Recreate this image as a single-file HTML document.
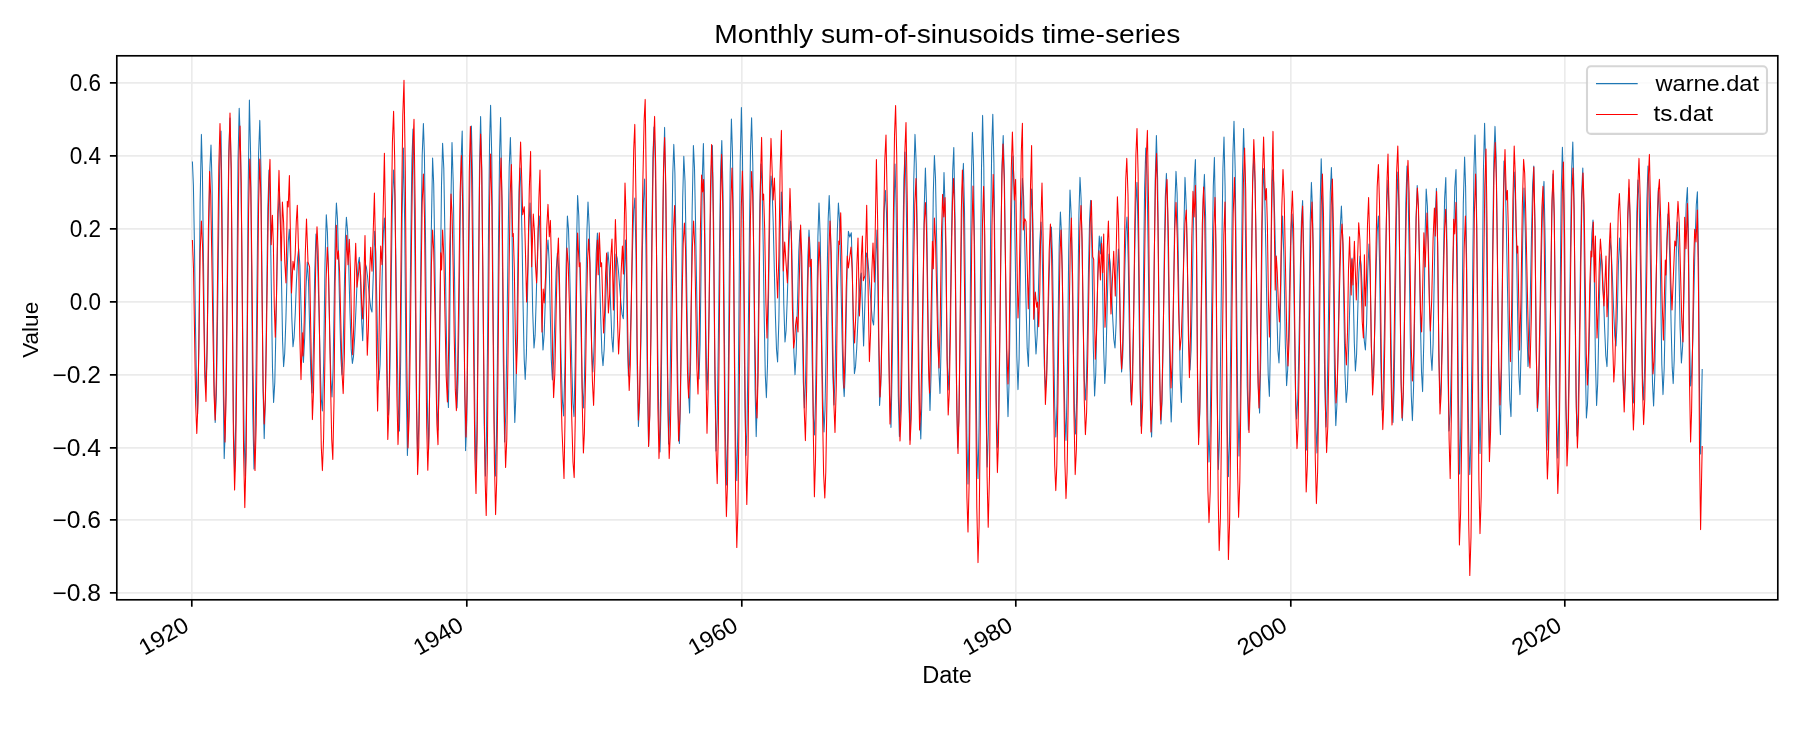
<!DOCTYPE html>
<html lang="en"><head><meta charset="utf-8"><title>Monthly sum-of-sinusoids time-series</title>
<style>html,body{margin:0;padding:0;background:#fff}svg{display:block}text{font-family:"Liberation Sans",sans-serif;fill:#000}</style></head><body>
<svg width="1800" height="750" viewBox="0 0 1800 750" style="will-change:transform">
<rect width="1800" height="750" fill="#fff"/>
<path d="M191.8 55.8 V599.8M466.8 55.8 V599.8M741.8 55.8 V599.8M1015.8 55.8 V599.8M1290.8 55.8 V599.8M1564.8 55.8 V599.8M116.8 592.8 H1777.8M116.8 519.8 H1777.8M116.8 447.8 H1777.8M116.8 374.8 H1777.8M116.8 301.8 H1777.8M116.8 228.8 H1777.8M116.8 155.8 H1777.8M116.8 82.8 H1777.8" stroke="#ebebeb" stroke-width="1.67" fill="none"/>
<g fill="none" stroke-width="1.05" stroke-linejoin="round" stroke-linecap="butt">
<path stroke="#1f77b4" d="M192.4 161.4L193.4 185.5L194.5 248.7L195.5 326.7L196.6 389.9L197.6 414.0L198.9 344.1L200.1 204.3L201.4 134.4L202.4 171.8L203.5 262.2L204.6 352.6L205.6 390.0L206.7 366.6L207.8 305.4L208.8 229.6L209.9 168.4L211.0 145.0L212.1 185.6L213.1 283.7L214.1 381.8L215.2 422.4L216.4 394.6L217.5 321.7L218.7 231.7L219.8 158.8L221.0 131.0L222.1 212.9L223.1 376.7L224.2 458.6L225.4 426.1L226.5 340.9L227.7 235.7L228.8 150.5L230.0 118.0L231.2 169.8L232.3 295.0L233.4 420.2L234.6 472.0L235.8 418.7L236.9 290.1L238.0 161.5L239.2 108.2L240.4 143.3L241.7 235.3L242.9 348.9L244.2 440.9L245.4 476.0L246.7 382.0L248.1 194.0L249.4 100.0L250.6 154.0L251.7 284.5L252.8 415.0L254.0 469.0L255.2 435.7L256.3 348.6L257.5 240.8L258.6 153.7L259.8 120.4L260.9 167.0L262.0 279.5L263.1 392.0L264.2 438.6L265.4 399.3L266.6 304.3L267.8 209.3L269.0 170.0L270.1 204.0L271.3 286.2L272.5 368.4L273.6 402.4L274.8 382.5L275.9 330.3L277.1 265.7L278.2 213.5L279.4 193.6L280.4 218.9L281.5 280.1L282.6 341.3L283.6 366.6L284.7 353.5L285.9 319.2L287.0 276.7L288.2 242.4L289.3 229.3L290.5 258.6L291.8 317.3L293.0 346.7L294.1 337.3L295.3 312.8L296.4 282.6L297.6 258.1L298.7 248.7L299.9 265.4L301.0 305.5L302.2 345.7L303.4 362.4L304.7 337.3L306.0 287.1L307.3 262.0L308.5 281.2L309.6 327.5L310.8 373.8L312.0 393.0L313.3 353.2L314.7 273.8L316.0 234.0L317.1 245.9L318.1 278.2L319.2 322.5L320.3 366.8L321.3 399.1L322.4 411.0L323.7 361.9L325.0 263.8L326.3 214.7L327.4 232.1L328.6 277.7L329.7 334.0L330.9 379.6L332.0 397.0L333.1 368.6L334.2 300.0L335.3 231.4L336.4 203.0L337.5 219.4L338.6 262.4L339.8 315.6L340.9 358.6L342.0 375.0L343.1 351.9L344.2 296.2L345.3 240.4L346.4 217.3L347.6 231.3L348.8 267.8L350.0 312.9L351.2 349.4L352.4 363.4L353.5 356.3L354.7 336.9L355.9 310.4L357.0 283.8L358.1 264.4L359.3 257.3L360.4 278.1L361.6 319.8L362.7 340.7L364.0 302.4L365.3 264.0L366.4 267.2L367.5 276.0L368.6 288.0L369.8 300.0L370.9 308.8L372.0 312.0L373.4 271.7L374.7 231.3L375.8 253.1L376.9 305.6L377.9 358.2L379.0 380.0L380.1 364.5L381.2 324.0L382.2 274.0L383.3 233.5L384.4 218.0L385.4 246.8L386.4 316.5L387.5 386.2L388.5 415.0L389.8 379.1L391.1 292.5L392.3 205.9L393.6 170.0L394.8 194.9L395.9 260.2L397.1 340.8L398.2 406.1L399.4 431.0L400.7 360.2L402.1 218.8L403.4 148.0L404.7 224.8L406.1 378.5L407.4 455.4L408.5 424.2L409.6 342.6L410.8 241.8L411.9 160.2L413.0 129.0L414.1 176.9L415.3 292.5L416.5 408.1L417.6 456.0L418.8 424.3L419.9 341.2L421.1 238.4L422.2 155.3L423.4 123.6L424.4 154.8L425.5 236.4L426.5 337.2L427.6 418.8L428.6 450.0L429.9 377.0L431.3 231.0L432.6 158.0L433.7 184.0L434.8 252.0L435.8 336.0L436.9 404.0L438.0 430.0L439.1 388.0L440.3 286.6L441.5 185.2L442.6 143.2L443.8 168.4L444.9 234.5L446.1 316.1L447.2 382.2L448.4 407.4L449.6 341.2L450.8 208.8L452.0 142.6L453.2 181.5L454.5 275.3L455.8 369.1L457.0 408.0L458.0 381.5L459.1 312.3L460.1 226.7L461.2 157.5L462.2 131.0L463.3 210.9L464.5 370.7L465.6 450.6L466.8 419.6L467.9 338.5L469.1 238.1L470.2 157.0L471.4 126.0L472.5 176.7L473.7 299.0L474.9 421.3L476.0 472.0L477.1 420.0L478.3 294.3L479.5 168.6L480.6 116.6L481.8 169.2L483.0 296.3L484.2 423.4L485.4 476.0L486.4 440.6L487.5 347.9L488.5 233.3L489.6 140.6L490.6 105.2L491.8 159.5L493.0 290.6L494.2 421.7L495.4 476.0L496.4 441.8L497.5 352.2L498.5 241.4L499.6 151.8L500.6 117.6L501.9 198.7L503.3 360.9L504.6 442.0L505.8 412.9L506.9 336.8L508.1 242.8L509.2 166.7L510.4 137.6L511.5 179.3L512.6 280.0L513.7 380.7L514.8 422.4L515.8 398.1L516.9 334.5L517.9 255.9L519.0 192.3L520.0 168.0L521.0 188.2L522.1 241.0L523.1 306.4L524.2 359.2L525.2 379.4L526.4 353.6L527.6 291.2L528.8 228.8L530.0 203.0L531.3 239.2L532.7 311.8L534.0 348.0L535.1 335.4L536.1 302.4L537.2 261.6L538.2 228.6L539.3 216.0L540.5 249.5L541.8 316.5L543.0 350.0L544.2 333.9L545.5 295.0L546.8 256.1L548.0 240.0L549.1 260.5L550.2 310.0L551.3 359.5L552.4 380.0L553.6 361.4L554.9 316.5L556.1 271.6L557.4 253.0L558.6 268.6L559.9 309.3L561.1 359.7L562.4 400.4L563.6 416.0L564.9 366.0L566.1 266.0L567.4 216.0L568.5 229.4L569.6 266.1L570.7 316.3L571.8 366.4L572.9 403.2L574.0 416.6L575.2 361.4L576.4 250.9L577.6 195.6L578.8 215.9L579.9 269.0L581.1 334.6L582.2 387.7L583.4 408.0L584.5 377.8L585.7 305.0L586.9 232.2L588.0 202.0L589.2 226.9L590.4 287.0L591.6 347.1L592.8 372.0L593.9 351.6L595.1 302.5L596.2 253.4L597.4 233.0L598.5 245.7L599.6 278.8L600.8 319.8L601.9 352.9L603.0 365.6L604.2 349.0L605.5 308.8L606.8 268.6L608.0 252.0L609.2 266.6L610.5 302.0L611.8 337.4L613.0 352.0L614.0 327.5L615.0 278.5L616.0 254.0L617.2 258.3L618.4 270.2L619.6 286.3L620.9 302.5L622.1 314.4L623.3 318.7L624.3 279.4L625.4 240.0L626.4 274.0L627.4 342.0L628.4 376.0L629.5 364.1L630.5 331.5L631.6 287.0L632.7 242.5L633.7 209.9L634.8 198.0L636.0 255.1L637.2 369.3L638.4 426.4L639.6 402.8L640.9 340.9L642.1 264.5L643.4 202.6L644.6 179.0L645.9 245.8L647.3 379.2L648.6 446.0L649.7 415.5L650.8 335.8L651.8 237.2L652.9 157.5L654.0 127.0L655.2 158.0L656.4 239.3L657.6 339.7L658.8 421.0L660.0 452.0L661.1 404.5L662.3 289.7L663.5 174.9L664.6 127.4L665.9 206.6L667.3 364.9L668.6 444.0L669.6 415.4L670.7 340.5L671.7 247.9L672.8 173.0L673.8 144.4L674.9 173.0L676.0 247.7L677.2 340.1L678.3 414.8L679.4 443.4L680.5 401.3L681.6 299.8L682.7 198.3L683.8 156.2L685.0 180.7L686.1 244.9L687.3 324.3L688.4 388.5L689.6 413.0L690.9 346.2L692.1 212.5L693.4 145.6L694.5 167.9L695.6 226.2L696.8 298.4L697.9 356.7L699.0 379.0L700.1 344.5L701.2 261.3L702.3 178.1L703.4 143.6L704.6 205.2L705.8 328.4L707.0 390.0L708.1 366.7L709.2 305.6L710.2 230.0L711.3 168.9L712.4 145.6L713.6 221.9L714.8 374.6L716.0 451.0L717.2 421.4L718.3 343.8L719.5 247.8L720.6 170.2L721.8 140.6L723.0 191.0L724.2 312.8L725.4 434.6L726.6 485.0L727.8 431.4L729.0 302.0L730.2 172.6L731.4 119.0L732.5 153.5L733.6 243.9L734.6 355.7L735.7 446.1L736.8 480.6L737.9 426.0L739.1 294.1L740.2 162.2L741.4 107.6L742.5 158.6L743.7 281.6L744.9 404.6L746.0 455.6L747.1 423.3L748.2 338.9L749.4 234.5L750.5 150.1L751.6 117.8L752.8 164.5L753.9 277.2L755.1 389.9L756.2 436.6L757.4 396.7L758.6 300.3L759.8 203.9L761.0 164.0L762.1 186.3L763.2 244.7L764.2 316.9L765.3 375.3L766.4 397.6L767.5 365.1L768.7 286.8L769.9 208.5L771.0 176.0L772.1 188.5L773.2 222.5L774.3 269.0L775.4 315.5L776.5 349.5L777.6 362.0L778.9 319.5L780.1 234.5L781.4 192.0L782.6 229.5L783.8 304.5L785.0 342.0L786.1 330.4L787.2 300.2L788.4 262.8L789.5 232.6L790.6 221.0L791.7 243.5L792.8 297.8L793.9 352.1L795.0 374.6L796.2 353.4L797.5 302.3L798.8 251.2L800.0 230.0L801.1 256.1L802.2 319.0L803.3 381.9L804.4 408.0L805.5 381.9L806.7 319.0L807.9 256.1L809.0 230.0L810.1 249.6L811.2 300.8L812.2 364.2L813.3 415.4L814.4 435.0L815.5 401.0L816.7 319.0L817.9 237.0L819.0 203.0L820.2 236.5L821.5 317.5L822.8 398.5L824.0 432.0L825.0 409.4L826.1 350.3L827.1 277.3L828.2 218.2L829.2 195.6L830.4 226.3L831.6 300.3L832.8 374.3L834.0 405.0L835.1 375.4L836.2 304.0L837.3 232.6L838.4 203.0L839.6 221.5L840.7 269.9L841.9 329.7L843.0 378.1L844.2 396.6L845.2 372.4L846.3 314.0L847.4 255.5L848.4 231.3L849.8 237.0L851.3 232.7L852.3 267.9L853.4 338.4L854.4 373.6L855.5 366.9L856.7 348.5L857.8 323.3L859.0 298.2L860.1 279.7L861.3 273.0L862.5 309.5L863.6 346.0L865.0 299.5L866.4 253.0L867.6 257.8L868.8 271.0L870.0 289.0L871.2 307.0L872.4 320.2L873.6 325.0L874.7 301.2L875.9 253.8L877.0 230.0L878.3 317.7L879.6 405.4L880.8 384.9L881.9 331.1L883.1 264.7L884.2 210.9L885.4 190.4L886.5 213.0L887.6 272.3L888.8 345.5L889.9 404.8L891.0 427.4L892.3 361.6L893.7 229.9L895.0 164.0L896.1 203.9L897.2 300.2L898.3 396.5L899.4 436.4L900.5 409.2L901.6 338.1L902.8 250.3L903.9 179.2L905.0 152.0L906.2 194.2L907.5 296.0L908.8 397.8L910.0 440.0L911.2 395.2L912.5 287.2L913.8 179.2L915.0 134.4L916.2 163.5L917.3 239.6L918.5 333.8L919.6 409.9L920.8 439.0L921.9 399.3L923.1 303.5L924.2 207.7L925.4 168.0L926.5 203.5L927.7 289.2L928.9 374.9L930.0 410.4L931.1 373.1L932.2 283.0L933.3 192.9L934.4 155.6L935.5 178.3L936.6 237.8L937.8 311.2L938.9 370.7L940.0 393.4L941.3 338.2L942.7 227.8L944.0 172.6L945.0 204.4L946.1 281.3L947.2 358.2L948.2 390.0L949.3 366.9L950.4 306.3L951.6 231.3L952.7 170.7L953.8 147.6L955.1 222.7L956.3 372.9L957.6 448.0L958.8 420.8L959.9 349.7L961.1 261.7L962.2 190.6L963.4 163.4L964.5 210.4L965.7 323.7L966.9 437.0L968.0 484.0L969.1 432.5L970.2 308.2L971.3 183.9L972.4 132.4L973.5 165.4L974.6 251.9L975.8 358.9L976.9 445.4L978.0 478.4L979.1 425.2L980.3 296.9L981.5 168.6L982.6 115.4L983.8 166.9L984.9 291.2L986.1 415.5L987.2 467.0L988.3 433.3L989.4 345.1L990.6 236.1L991.7 147.9L992.8 114.2L993.9 163.1L995.1 281.1L996.2 399.1L997.4 448.0L998.6 418.2L999.7 340.1L1000.9 243.5L1002.0 165.4L1003.2 135.6L1004.4 176.8L1005.6 276.1L1006.8 375.4L1008.0 416.6L1009.2 378.4L1010.5 286.3L1011.8 194.2L1013.0 156.0L1014.2 190.2L1015.5 272.8L1016.8 355.4L1018.0 389.6L1019.1 358.7L1020.2 284.0L1021.3 209.3L1022.4 178.4L1023.6 196.4L1024.8 243.4L1026.0 301.4L1027.2 348.4L1028.4 366.4L1029.5 322.1L1030.5 233.4L1031.6 189.0L1032.7 213.2L1033.8 271.5L1034.9 329.8L1036.0 354.0L1037.2 334.7L1038.5 288.0L1039.8 241.3L1041.0 222.0L1042.1 246.6L1043.2 306.0L1044.3 365.4L1045.4 390.0L1046.6 374.4L1047.8 333.7L1049.0 283.3L1050.2 242.6L1051.4 227.0L1052.5 257.8L1053.6 332.0L1054.7 406.2L1055.8 437.0L1057.0 404.0L1058.1 324.5L1059.2 245.0L1060.4 212.0L1061.5 233.8L1062.6 290.9L1063.8 361.5L1064.9 418.6L1066.0 440.4L1067.3 377.8L1068.7 252.6L1070.0 190.0L1071.1 213.3L1072.2 274.3L1073.4 349.7L1074.5 410.7L1075.6 434.0L1076.7 396.4L1077.8 305.7L1078.9 215.0L1080.0 177.4L1081.1 198.7L1082.2 254.3L1083.2 323.1L1084.3 378.7L1085.4 400.0L1086.4 380.9L1087.5 331.0L1088.5 269.4L1089.6 219.5L1090.6 200.4L1091.9 249.3L1093.3 347.1L1094.6 396.0L1095.8 372.6L1096.9 316.0L1098.1 259.4L1099.3 236.0L1100.4 254.0L1101.3 236.7L1102.5 273.4L1103.6 346.7L1104.8 383.4L1105.8 364.4L1106.9 318.7L1108.0 273.0L1109.0 254.0L1110.2 263.0L1111.4 286.5L1112.6 315.5L1113.8 339.0L1115.0 348.0L1116.1 323.2L1117.3 273.8L1118.4 249.0L1119.5 279.8L1120.5 341.2L1121.6 372.0L1122.7 357.2L1123.8 318.4L1124.8 270.6L1125.9 231.8L1127.0 217.0L1128.3 263.2L1129.7 355.8L1131.0 402.0L1132.2 381.0L1133.4 326.1L1134.6 258.3L1135.8 203.4L1137.0 182.4L1138.3 243.3L1139.7 365.1L1141.0 426.0L1142.2 385.3L1143.4 287.0L1144.6 188.7L1145.8 148.0L1147.0 175.6L1148.1 247.8L1149.3 337.2L1150.4 409.4L1151.6 437.0L1152.8 392.9L1154.0 286.3L1155.2 179.7L1156.4 135.6L1157.6 177.8L1158.7 279.8L1159.8 381.8L1161.0 424.0L1162.1 400.1L1163.2 337.4L1164.2 260.0L1165.3 197.3L1166.4 173.4L1167.6 209.8L1168.8 297.7L1170.0 385.6L1171.2 422.0L1172.4 385.3L1173.6 296.7L1174.8 208.1L1176.0 171.4L1177.1 193.5L1178.2 251.2L1179.2 322.6L1180.3 380.3L1181.4 402.4L1182.6 346.1L1183.8 233.7L1185.0 177.4L1186.2 205.6L1187.5 273.7L1188.8 341.8L1190.0 370.0L1191.1 349.9L1192.2 297.3L1193.2 232.3L1194.3 179.7L1195.4 159.6L1196.5 229.2L1197.5 368.4L1198.6 438.0L1199.8 412.8L1200.9 346.9L1202.1 265.5L1203.2 199.6L1204.4 174.4L1205.6 216.5L1206.7 318.2L1207.8 419.9L1209.0 462.0L1210.1 432.9L1211.2 356.8L1212.2 262.6L1213.3 186.5L1214.4 157.4L1215.7 235.4L1217.1 391.6L1218.4 469.6L1219.5 437.8L1220.6 354.7L1221.8 251.9L1222.9 168.8L1224.0 137.0L1225.1 186.7L1226.2 306.8L1227.3 426.9L1228.4 476.6L1229.5 442.7L1230.6 353.8L1231.8 244.0L1232.9 155.1L1234.0 121.2L1235.2 170.2L1236.5 288.6L1237.8 407.0L1239.0 456.0L1240.2 408.1L1241.3 292.3L1242.4 176.5L1243.6 128.6L1244.8 172.7L1246.0 279.3L1247.2 385.9L1248.4 430.0L1249.5 403.8L1250.6 335.3L1251.6 250.7L1252.7 182.2L1253.8 156.0L1255.0 180.5L1256.1 244.8L1257.3 324.2L1258.4 388.5L1259.6 413.0L1260.9 351.9L1262.1 229.7L1263.4 168.6L1264.6 190.4L1265.8 247.3L1267.0 317.7L1268.2 374.6L1269.4 396.4L1270.5 339.8L1271.5 226.6L1272.6 170.0L1273.7 182.9L1274.7 218.2L1275.8 266.5L1276.9 314.8L1277.9 350.1L1279.0 363.0L1280.2 326.2L1281.4 252.8L1282.6 216.0L1283.9 258.4L1285.3 343.2L1286.6 385.6L1287.7 369.2L1288.8 326.3L1289.8 273.3L1290.9 230.4L1292.0 214.0L1293.2 244.0L1294.3 316.5L1295.4 389.0L1296.6 419.0L1297.8 398.1L1299.0 343.5L1300.2 276.1L1301.4 221.5L1302.6 200.6L1303.9 262.9L1305.3 387.6L1306.6 450.0L1307.8 410.8L1309.0 316.2L1310.2 221.6L1311.4 182.4L1312.5 208.2L1313.6 275.9L1314.8 359.5L1315.9 427.2L1317.0 453.0L1318.0 409.9L1319.1 305.9L1320.2 201.9L1321.2 158.8L1322.4 198.1L1323.6 292.9L1324.8 387.7L1326.0 427.0L1327.1 402.2L1328.2 337.4L1329.2 257.2L1330.3 192.4L1331.4 167.6L1332.5 205.4L1333.6 296.6L1334.7 387.8L1335.8 425.6L1336.9 404.6L1338.0 349.7L1339.2 281.9L1340.3 227.0L1341.4 206.0L1342.6 234.8L1343.8 304.2L1345.0 373.6L1346.2 402.4L1347.4 388.6L1348.5 352.5L1349.7 307.9L1350.8 271.8L1352.0 258.0L1353.1 286.2L1354.3 342.8L1355.4 371.0L1356.6 354.2L1357.7 313.5L1358.8 272.8L1360.0 256.0L1361.1 265.0L1362.2 288.5L1363.2 317.5L1364.3 341.0L1365.4 350.0L1366.6 323.5L1367.8 270.5L1369.0 244.0L1370.2 278.0L1371.4 346.0L1372.6 380.0L1373.8 364.3L1374.9 323.3L1376.1 272.7L1377.2 231.7L1378.4 216.0L1379.6 264.5L1380.8 361.5L1382.0 410.0L1383.2 388.0L1384.4 330.5L1385.6 259.5L1386.8 202.0L1388.0 180.0L1389.2 215.5L1390.5 301.3L1391.8 387.1L1393.0 422.6L1394.2 385.9L1395.4 297.3L1396.6 208.7L1397.8 172.0L1399.0 208.4L1400.1 296.3L1401.2 384.2L1402.4 420.6L1403.6 383.3L1404.7 293.3L1405.8 203.3L1407.0 166.0L1408.1 190.3L1409.2 254.0L1410.2 332.6L1411.3 396.3L1412.4 420.6L1413.6 386.2L1414.8 303.1L1416.0 220.0L1417.2 185.6L1418.3 205.3L1419.4 256.8L1420.4 320.4L1421.5 371.9L1422.6 391.6L1423.8 341.0L1425.0 239.7L1426.2 189.0L1427.4 206.3L1428.5 251.7L1429.7 307.7L1430.8 353.1L1432.0 370.4L1433.1 343.7L1434.2 279.4L1435.3 215.1L1436.4 188.4L1437.6 242.0L1438.8 349.3L1440.0 403.0L1441.2 381.5L1442.3 325.1L1443.5 255.5L1444.6 199.1L1445.8 177.6L1446.9 240.9L1447.9 367.6L1449.0 431.0L1450.2 413.5L1451.3 365.7L1452.5 300.3L1453.7 235.0L1454.8 187.1L1456.0 169.6L1457.2 245.7L1458.4 397.9L1459.6 474.0L1460.8 427.6L1462.1 315.5L1463.3 203.4L1464.6 157.0L1465.6 187.3L1466.7 266.7L1467.7 364.9L1468.8 444.3L1469.8 474.6L1470.8 442.2L1471.9 357.3L1472.9 252.3L1474.0 167.4L1475.0 135.0L1476.2 181.6L1477.5 294.2L1478.8 406.8L1480.0 453.4L1481.2 405.0L1482.3 288.3L1483.4 171.6L1484.6 123.2L1485.8 170.8L1487.0 285.6L1488.2 400.4L1489.4 448.0L1490.5 417.3L1491.6 336.9L1492.8 237.5L1493.9 157.1L1495.0 126.4L1496.1 155.8L1497.2 232.9L1498.2 328.1L1499.3 405.2L1500.4 434.6L1501.6 366.2L1502.8 229.4L1504.0 161.0L1505.2 178.1L1506.3 224.9L1507.5 288.8L1508.7 352.7L1509.8 399.5L1511.0 416.6L1512.1 355.5L1513.1 233.2L1514.2 172.0L1515.4 193.3L1516.5 248.9L1517.7 317.7L1518.8 373.3L1520.0 394.6L1521.3 343.0L1522.7 239.7L1524.0 188.0L1525.3 232.6L1526.7 321.8L1528.0 366.4L1529.2 347.3L1530.3 297.2L1531.5 235.2L1532.6 185.1L1533.8 166.0L1535.0 227.3L1536.2 350.0L1537.4 411.4L1538.5 396.0L1539.6 353.9L1540.7 296.4L1541.8 238.9L1542.9 196.8L1544.0 181.4L1545.3 248.6L1546.7 382.9L1548.0 450.0L1549.2 409.6L1550.5 312.0L1551.8 214.4L1553.0 174.0L1554.2 215.6L1555.4 316.0L1556.6 416.4L1557.8 458.0L1559.0 412.5L1560.1 302.6L1561.2 192.7L1562.4 147.2L1563.6 191.3L1564.7 297.6L1565.8 403.9L1567.0 448.0L1568.2 418.8L1569.3 342.3L1570.5 247.7L1571.6 171.2L1572.8 142.0L1573.8 185.1L1574.9 289.0L1576.0 392.9L1577.0 436.0L1578.2 410.4L1579.3 343.4L1580.5 260.6L1581.6 193.6L1582.8 168.0L1584.0 230.5L1585.2 355.5L1586.4 418.0L1587.5 404.7L1588.6 368.5L1589.7 319.0L1590.8 269.5L1591.9 233.3L1593.0 220.0L1594.2 266.3L1595.4 359.0L1596.6 405.4L1597.7 383.2L1598.8 329.7L1599.9 276.2L1601.0 254.0L1602.2 264.8L1603.4 292.9L1604.6 327.7L1605.8 355.8L1607.0 366.6L1608.0 335.0L1609.0 271.7L1610.0 240.0L1611.2 250.1L1612.4 276.6L1613.6 309.4L1614.8 335.9L1616.0 346.0L1617.2 319.0L1618.4 265.0L1619.6 238.0L1620.8 261.7L1621.9 319.0L1623.0 376.3L1624.2 400.0L1625.4 369.0L1626.6 294.0L1627.8 219.0L1629.0 188.0L1630.1 219.5L1631.2 295.5L1632.3 371.5L1633.4 403.0L1634.6 370.3L1635.7 291.5L1636.8 212.7L1638.0 180.0L1639.1 201.0L1640.2 256.0L1641.4 324.0L1642.5 379.0L1643.6 400.0L1644.7 365.7L1645.8 283.0L1646.9 200.3L1648.0 166.0L1649.1 188.9L1650.2 248.9L1651.4 323.1L1652.5 383.1L1653.6 406.0L1654.8 374.1L1656.0 297.0L1657.2 219.9L1658.4 188.0L1659.6 218.3L1660.7 291.3L1661.8 364.3L1663.0 394.6L1664.2 368.2L1665.5 304.3L1666.8 240.4L1668.0 214.0L1669.0 230.2L1670.1 272.6L1671.1 325.0L1672.2 367.4L1673.2 383.6L1674.2 359.9L1675.3 302.8L1676.4 245.7L1677.4 222.0L1678.7 257.2L1680.1 327.8L1681.4 363.0L1682.6 346.3L1683.8 302.4L1685.0 248.2L1686.2 204.3L1687.4 187.6L1688.5 237.2L1689.5 336.4L1690.6 386.0L1691.7 373.0L1692.9 337.5L1694.0 288.9L1695.1 240.4L1696.3 204.8L1697.4 191.8L1698.5 257.4L1699.5 388.4L1700.6 454.0L1702.2 369.0"/>
<path stroke="#ff0000" d="M192.4 240.0L193.5 268.3L194.6 336.7L195.7 405.1L196.8 433.4L198.0 402.3L199.1 327.2L200.2 252.1L201.4 221.0L202.6 247.4L203.7 311.2L204.8 375.0L206.0 401.4L207.2 343.9L208.4 228.9L209.6 171.4L210.7 195.1L211.8 257.3L213.0 334.1L214.1 396.3L215.2 420.0L216.4 376.6L217.6 271.8L218.8 167.0L220.0 123.6L221.2 170.2L222.5 282.8L223.8 395.4L225.0 442.0L226.2 393.8L227.5 277.5L228.8 161.2L230.0 113.0L231.2 168.2L232.3 301.5L233.4 434.8L234.6 490.0L235.7 455.2L236.8 364.2L237.8 251.8L238.9 160.8L240.0 126.0L241.2 181.9L242.4 316.8L243.6 451.7L244.8 507.6L246.1 456.5L247.3 333.3L248.6 210.1L249.8 159.0L250.8 188.7L251.9 266.6L252.9 362.8L254.0 440.7L255.0 470.4L256.2 424.8L257.4 314.7L258.6 204.6L259.8 159.0L260.9 197.8L262.0 291.5L263.1 385.2L264.2 424.0L265.4 398.7L266.5 332.6L267.7 250.8L268.8 184.7L270.0 159.4L271.2 244.7L272.4 215.3L273.4 245.8L274.3 306.8L275.3 337.3L276.5 295.6L277.8 212.1L279.0 170.4L280.1 215.5L281.3 260.7L282.4 202.0L283.6 222.2L284.8 262.8L286.0 283.0L287.3 201.3L288.2 207.0L289.4 175.6L290.4 234.3L291.5 293.0L293.0 261.3L294.2 270.0L295.2 253.8L296.3 221.5L297.3 205.3L298.5 248.9L299.8 336.0L301.0 379.6L302.3 332.7L303.0 356.0L304.2 321.8L305.3 253.2L306.5 219.0L308.0 262.0L309.6 267.0L311.0 343.3L312.4 419.6L313.5 391.4L314.7 323.2L315.9 254.9L317.0 226.7L318.1 250.0L319.2 311.0L320.2 386.3L321.3 447.3L322.4 470.6L323.6 437.9L324.9 359.0L326.1 280.0L327.3 247.3L328.4 267.6L329.5 320.6L330.6 386.1L331.7 439.1L332.8 459.4L334.0 400.9L335.1 283.8L336.3 225.3L337.3 259.3L338.4 250.7L339.6 271.6L340.8 322.1L342.0 372.7L343.2 393.6L344.4 354.0L345.5 274.9L346.7 235.3L348.0 264.7L349.3 239.3L350.4 268.1L351.6 325.8L352.7 354.7L353.7 326.9L354.7 271.2L355.7 243.3L357.0 287.3L358.4 274.7L359.7 262.0L360.7 276.2L361.7 304.8L362.7 319.0L363.9 277.3L365.0 235.6L366.1 295.4L367.3 355.3L368.4 328.3L369.6 274.3L370.7 247.3L372.0 271.3L373.2 232.2L374.4 193.0L375.5 247.5L376.5 356.5L377.6 411.0L378.6 369.8L379.7 287.2L380.7 246.0L382.0 264.7L383.2 208.9L384.4 153.2L385.5 224.7L386.7 367.8L387.8 439.4L389.0 408.1L390.1 326.0L391.3 224.6L392.4 142.5L393.6 111.2L394.7 160.0L395.8 277.9L396.9 395.8L398.0 444.6L399.2 409.8L400.4 318.7L401.6 206.1L402.8 115.0L404.0 80.2L405.3 172.1L406.7 356.0L408.0 448.0L409.2 416.6L410.4 334.4L411.6 232.8L412.8 150.6L414.0 119.2L415.2 208.1L416.4 385.8L417.6 474.6L418.8 445.9L419.9 370.7L421.1 277.9L422.2 202.7L423.4 174.0L424.5 217.4L425.6 322.1L426.7 426.8L427.8 470.2L429.0 435.0L430.2 350.1L431.4 265.2L432.6 230.0L433.7 250.5L434.8 304.1L435.8 370.5L436.9 424.1L438.0 444.6L439.4 348.7L440.7 252.7L441.6 270.0L442.6 230.0L443.8 255.2L445.0 316.0L446.2 376.8L447.4 402.0L448.6 350.0L449.8 246.0L451.0 194.0L452.1 214.7L453.2 268.8L454.2 335.8L455.3 389.9L456.4 410.6L457.6 373.2L458.9 283.0L460.1 192.8L461.4 155.4L462.5 196.6L463.7 296.2L464.9 395.8L466.0 437.0L467.1 391.5L468.2 281.7L469.3 171.9L470.4 126.4L471.5 161.4L472.6 253.2L473.8 366.6L474.9 458.4L476.0 493.4L477.1 440.8L478.3 313.7L479.5 186.6L480.6 134.0L481.7 170.4L482.8 265.8L484.0 383.6L485.1 479.0L486.2 515.4L487.3 462.5L488.4 334.7L489.5 206.9L490.6 154.0L491.9 206.8L493.1 334.3L494.4 461.8L495.6 514.6L496.7 480.5L497.8 391.4L498.8 281.2L499.9 192.1L501.0 158.0L502.1 203.3L503.3 312.7L504.5 422.1L505.6 467.4L506.8 438.5L507.9 362.8L509.1 269.2L510.2 193.5L511.4 164.6L512.7 236.5L513.3 233.5L514.3 268.5L515.4 338.6L516.4 373.6L517.5 339.7L518.5 257.8L519.5 175.9L520.6 142.0L521.7 178.3L522.7 214.7L524.3 206.7L525.5 254.3L526.6 302.0L527.9 264.4L529.3 189.1L530.6 151.4L531.7 266.7L533.3 214.0L534.4 231.2L535.5 265.8L536.6 283.0L537.7 254.8L538.9 198.2L540.0 170.0L541.0 251.0L542.0 332.0L543.2 289.0L544.2 303.0L545.5 278.4L546.7 229.1L548.0 204.4L549.3 236.7L550.4 220.4L551.5 264.7L552.5 353.3L553.6 397.6L554.8 374.2L556.0 317.8L557.2 261.4L558.4 238.0L559.6 286.0L560.8 382.0L562.0 430.0L563.0 454.2L564.0 478.4L565.0 420.8L566.0 305.6L567.0 248.0L568.2 263.4L569.4 305.4L570.6 362.8L571.8 420.2L573.0 462.2L574.2 477.6L575.3 416.5L576.5 294.2L577.6 233.0L579.2 266.7L580.1 262.7L581.2 310.3L582.3 405.4L583.4 453.0L584.4 432.6L585.5 379.1L586.5 312.9L587.6 259.4L588.6 239.0L589.9 263.4L591.1 322.2L592.4 381.0L593.6 405.4L594.9 364.1L596.1 281.4L597.4 240.0L598.2 274.7L599.3 232.7L600.7 266.7L601.6 262.7L602.6 297.8L603.6 333.0L604.6 313.0L605.6 273.0L606.6 253.0L607.5 283.0L608.4 313.0L609.6 294.5L610.8 257.5L612.0 239.0L613.4 310.0L614.4 264.8L615.4 219.6L616.5 253.2L617.5 320.4L618.6 354.0L619.9 327.0L621.1 273.0L622.4 246.0L623.4 274.0L625.0 183.0L626.0 213.4L627.1 286.7L628.2 360.0L629.2 390.4L630.3 365.0L631.4 298.5L632.6 216.3L633.7 149.8L634.8 124.4L636.0 198.3L637.2 346.1L638.4 420.0L639.5 398.5L640.7 339.9L641.8 259.7L642.9 179.6L644.1 120.9L645.2 99.4L646.3 186.1L647.5 359.6L648.6 446.4L649.8 414.9L651.0 332.4L652.2 230.4L653.4 147.9L654.6 116.4L655.7 166.5L656.8 287.5L657.9 408.5L659.0 458.6L660.1 427.9L661.2 347.7L662.4 248.5L663.5 168.3L664.6 137.6L665.8 184.6L666.9 298.1L668.1 411.6L669.2 458.6L670.3 434.4L671.4 371.2L672.4 293.0L673.5 229.8L674.6 205.6L675.9 264.4L677.3 382.1L678.6 441.0L679.8 420.2L680.9 365.7L682.1 298.3L683.2 243.8L684.4 223.0L685.5 248.6L686.5 310.5L687.5 372.4L688.6 398.0L689.9 372.1L691.1 309.5L692.4 246.9L693.6 221.0L694.7 246.3L695.8 307.5L696.9 368.7L698.0 394.0L699.2 339.2L700.4 229.8L701.6 175.0L702.6 192.0L703.6 179.4L704.7 242.8L705.9 369.8L707.0 433.2L708.1 390.9L709.3 288.9L710.5 186.9L711.6 144.6L712.7 177.0L713.8 261.7L715.0 366.5L716.1 451.2L717.2 483.6L718.3 435.4L719.4 319.0L720.5 202.6L721.6 154.4L722.8 207.4L724.0 335.5L725.2 463.6L726.4 516.6L727.5 483.3L728.6 396.2L729.8 288.4L730.9 201.3L732.0 168.0L733.2 223.6L734.4 357.7L735.6 491.8L736.8 547.4L737.9 511.5L739.0 417.4L740.2 301.0L741.3 206.9L742.4 171.0L743.5 219.8L744.6 337.7L745.7 455.6L746.8 504.4L748.0 455.7L749.2 338.0L750.4 220.3L751.6 171.6L752.7 195.1L753.8 256.7L754.8 332.9L755.9 394.5L757.0 418.0L758.1 376.9L759.3 277.7L760.5 178.5L761.6 137.4L762.8 200.0L763.6 194.0L764.7 230.0L765.9 302.0L767.0 338.0L768.3 288.1L769.7 188.3L771.0 138.4L772.1 169.2L773.2 200.0L774.4 178.0L775.5 208.0L776.5 268.0L777.6 298.0L778.9 256.1L780.1 172.3L781.4 130.4L782.3 200.7L783.3 271.0L784.7 242.0L786.0 262.5L787.4 283.0L788.7 235.7L790.0 188.4L791.2 228.3L792.4 308.1L793.6 348.0L794.6 340.2L795.6 324.8L796.6 317.0L798.0 332.0L799.3 278.5L800.6 225.0L801.8 256.6L803.0 332.8L804.2 409.0L805.4 440.6L806.6 389.7L807.8 287.9L809.0 237.0L810.0 266.7L811.3 259.3L812.3 318.7L813.4 437.4L814.4 496.8L815.5 459.5L816.7 369.4L817.9 279.3L819.0 242.0L820.2 266.4L821.3 330.4L822.5 409.6L823.6 473.6L824.8 498.0L825.8 471.5L826.9 402.3L827.9 316.7L829.0 247.5L830.0 221.0L831.2 252.0L832.5 326.7L833.8 401.4L835.0 432.4L836.3 384.6L837.5 288.9L838.8 241.0L839.5 244.5L840.7 212.7L841.8 256.5L842.9 344.2L844.0 388.0L845.1 355.0L846.2 289.0L847.3 256.0L848.4 268.0L849.7 257.5L851.0 247.0L852.2 271.0L853.4 319.0L854.6 343.0L855.7 316.8L856.9 264.2L858.0 238.0L859.4 316.0L860.4 296.0L861.4 256.0L862.4 236.0L863.3 280.7L865.0 275.3L866.7 205.3L868.0 283.4L869.4 361.6L870.6 332.0L871.8 272.7L873.0 243.0L874.4 282.0L875.4 220.8L876.4 159.6L877.6 218.9L878.8 337.6L880.0 397.0L881.2 372.0L882.4 306.5L883.6 225.5L884.8 160.0L886.0 135.0L887.3 207.2L888.7 351.8L890.0 424.0L891.1 393.6L892.2 314.0L893.4 215.6L894.5 136.0L895.6 105.6L896.7 154.7L897.8 273.3L898.9 391.9L900.0 441.0L901.2 410.6L902.4 331.0L903.6 232.6L904.8 153.0L906.0 122.6L907.3 203.0L908.7 363.9L910.0 444.4L911.2 419.0L912.4 352.6L913.6 270.4L914.8 204.0L916.0 178.6L917.2 241.4L918.4 367.1L919.6 430.0L920.8 408.3L921.9 351.4L923.1 281.2L924.2 224.3L925.4 202.6L926.5 230.5L927.5 297.8L928.5 365.1L929.6 393.0L931.0 317.2L932.4 241.3L933.3 268.7L934.4 218.0L935.5 240.0L936.7 293.0L937.9 346.0L939.0 368.0L940.2 324.6L941.4 237.8L942.6 194.4L943.8 217.0L945.0 197.6L946.1 251.9L947.1 360.6L948.2 415.0L949.3 392.4L950.4 333.3L951.4 260.1L952.5 201.0L953.6 178.4L954.7 218.7L955.8 315.9L956.9 413.1L958.0 453.4L959.1 411.9L960.2 311.7L961.3 211.5L962.4 170.0L963.5 204.6L964.6 295.1L965.8 406.9L966.9 497.4L968.0 532.0L969.2 481.3L970.5 359.0L971.8 236.7L973.0 186.0L974.2 241.2L975.5 374.3L976.8 507.4L978.0 562.6L979.1 526.7L980.2 432.6L981.4 316.4L982.5 222.3L983.6 186.4L984.8 236.3L985.9 356.8L987.1 477.3L988.2 527.2L989.5 475.5L990.7 350.8L992.0 226.1L993.2 174.4L994.2 218.1L995.3 323.5L996.4 428.9L997.4 472.6L998.5 441.2L999.6 359.1L1000.8 257.5L1001.9 175.4L1003.0 144.0L1004.2 179.1L1005.5 264.0L1006.8 348.9L1008.0 384.0L1009.1 347.1L1010.2 258.0L1011.3 168.9L1012.4 132.0L1013.4 166.0L1014.4 200.0L1015.6 179.4L1016.8 248.7L1018.0 318.0L1019.1 289.5L1020.2 220.6L1021.3 151.7L1022.4 123.2L1023.3 230.0L1024.7 218.7L1026.0 221.5L1027.2 265.1L1028.3 308.7L1029.4 267.9L1030.5 186.4L1031.6 145.6L1032.7 232.4L1033.7 319.3L1035.3 292.0L1036.7 307.3L1037.6 302.0L1038.7 326.7L1039.8 290.8L1040.9 218.9L1042.0 183.0L1043.1 238.3L1044.3 349.0L1045.4 404.4L1046.7 378.0L1047.9 314.2L1049.2 250.4L1050.4 224.0L1051.5 249.5L1052.6 316.1L1053.6 398.5L1054.7 465.1L1055.8 490.6L1056.8 465.7L1057.9 400.6L1058.9 320.0L1060.0 254.9L1061.0 230.0L1062.2 269.3L1063.5 364.3L1064.8 459.3L1066.0 498.6L1067.1 471.8L1068.2 401.7L1069.2 314.9L1070.3 244.8L1071.4 218.0L1072.7 282.1L1073.9 410.4L1075.2 474.6L1076.4 448.9L1077.5 381.7L1078.7 298.5L1079.8 231.3L1081.0 205.6L1082.1 239.1L1083.2 320.1L1084.3 401.1L1085.4 434.6L1086.6 412.3L1087.8 353.8L1089.0 281.4L1090.2 222.9L1091.4 200.6L1092.7 256.7L1093.7 259.5L1095.3 359.3L1096.5 332.2L1097.8 277.9L1099.0 250.7L1100.4 280.0L1101.6 243.3L1102.7 272.7L1103.7 234.0L1105.0 327.3L1106.1 300.7L1107.3 247.6L1108.4 221.0L1109.7 267.5L1111.0 314.0L1112.3 282.7L1113.7 251.3L1115.3 296.0L1116.3 246.4L1117.4 196.8L1118.5 222.0L1119.5 282.9L1120.5 343.8L1121.6 369.0L1122.6 348.9L1123.7 296.2L1124.7 231.2L1125.8 178.5L1126.8 158.4L1128.0 194.5L1129.2 281.7L1130.4 368.9L1131.6 405.0L1132.7 378.6L1133.8 309.5L1134.8 224.1L1135.9 155.0L1137.0 128.6L1138.1 173.2L1139.2 281.0L1140.3 388.8L1141.4 433.4L1142.6 404.5L1143.8 328.7L1145.0 235.1L1146.2 159.3L1147.4 130.4L1148.6 205.8L1149.8 356.6L1151.0 432.0L1152.1 405.4L1153.2 335.7L1154.4 249.7L1155.5 180.0L1156.6 153.4L1157.9 220.1L1159.3 353.4L1160.6 420.0L1161.7 403.9L1162.7 359.9L1163.8 299.7L1164.9 239.6L1165.9 195.5L1167.0 179.4L1168.3 231.5L1169.7 335.8L1171.0 388.0L1172.2 360.8L1173.5 295.2L1174.8 229.6L1176.0 202.4L1177.3 239.3L1178.7 313.1L1180.0 350.0L1181.3 336.6L1182.5 301.6L1183.8 258.4L1185.0 223.4L1186.3 210.0L1187.3 251.9L1188.4 335.7L1189.4 377.6L1190.6 331.1L1191.8 238.0L1193.0 191.4L1194.1 217.0L1195.4 185.4L1196.5 250.2L1197.5 379.8L1198.6 444.6L1199.8 406.9L1201.1 315.8L1202.3 224.7L1203.6 187.0L1204.7 219.0L1205.8 302.9L1206.8 406.7L1207.9 490.6L1209.0 522.6L1210.2 491.5L1211.4 410.2L1212.6 309.8L1213.8 228.5L1215.0 197.4L1216.0 249.1L1217.1 374.0L1218.2 498.9L1219.2 550.6L1220.4 517.3L1221.5 430.2L1222.7 322.4L1223.8 235.3L1225.0 202.0L1226.1 291.3L1227.3 470.0L1228.4 559.4L1229.6 522.9L1230.8 427.4L1232.0 309.4L1233.2 213.9L1234.4 177.4L1235.5 227.2L1236.5 347.3L1237.5 467.4L1238.6 517.2L1239.8 481.9L1241.0 389.6L1242.2 275.6L1243.4 183.3L1244.6 148.0L1245.7 189.6L1246.8 290.2L1247.9 390.8L1249.0 432.4L1250.2 389.5L1251.4 286.0L1252.6 182.5L1253.8 139.6L1254.8 165.2L1255.9 232.3L1256.9 315.3L1258.0 382.4L1259.0 408.0L1260.2 368.3L1261.3 272.5L1262.4 176.7L1263.6 137.0L1264.5 168.5L1265.4 200.0L1266.4 188.6L1267.4 225.7L1268.4 299.9L1269.4 337.0L1270.6 285.6L1271.8 182.8L1273.0 131.4L1274.1 210.7L1275.2 290.0L1276.3 256.0L1277.3 272.5L1278.4 305.5L1279.4 322.0L1280.6 283.9L1281.8 207.7L1283.0 169.6L1284.2 198.4L1285.5 267.8L1286.8 337.2L1288.0 366.0L1289.1 340.4L1290.2 278.5L1291.3 216.6L1292.4 191.0L1293.6 228.7L1294.7 319.8L1295.8 410.9L1297.0 448.6L1298.1 425.4L1299.2 364.8L1300.4 289.8L1301.5 229.2L1302.6 206.0L1303.8 277.5L1305.0 420.5L1306.2 492.0L1307.4 464.3L1308.5 391.8L1309.7 302.2L1310.8 229.7L1312.0 202.0L1313.1 246.2L1314.2 352.8L1315.3 459.4L1316.4 503.6L1317.6 472.1L1318.8 389.7L1320.0 287.9L1321.2 205.5L1322.4 174.0L1323.5 214.8L1324.5 313.3L1325.5 411.8L1326.6 452.6L1327.8 426.5L1328.9 358.1L1330.1 273.5L1331.2 205.1L1332.4 179.0L1333.6 235.0L1334.8 347.0L1336.0 403.0L1337.2 385.9L1338.4 341.2L1339.6 285.8L1340.8 241.1L1342.0 224.0L1343.1 244.6L1344.2 294.5L1345.3 344.4L1346.4 365.0L1347.5 332.9L1348.5 268.8L1349.6 236.7L1351.2 295.0L1352.0 259.3L1353.0 285.0L1354.4 241.3L1355.3 270.6L1356.3 300.0L1357.5 261.4L1358.7 222.7L1359.9 239.6L1361.1 280.3L1362.2 321.1L1363.4 338.0L1364.4 254.7L1365.4 306.0L1366.5 278.9L1367.5 224.7L1368.6 197.6L1369.9 246.9L1371.3 345.6L1372.6 395.0L1373.8 373.0L1374.9 315.4L1376.1 244.2L1377.2 186.6L1378.4 164.6L1379.5 203.4L1380.6 297.1L1381.7 390.8L1382.8 429.6L1383.8 403.3L1384.9 334.4L1385.9 249.2L1387.0 180.3L1388.0 154.0L1389.3 221.8L1390.7 357.2L1392.0 425.0L1393.2 398.4L1394.3 328.6L1395.5 242.4L1396.6 172.6L1397.8 146.0L1398.8 185.8L1399.9 282.0L1401.0 378.2L1402.0 418.0L1403.2 393.4L1404.4 329.0L1405.6 249.4L1406.8 185.0L1408.0 160.4L1409.1 192.7L1410.2 270.7L1411.3 348.7L1412.4 381.0L1413.7 352.7L1414.9 284.5L1416.2 216.3L1417.4 188.0L1418.5 209.1L1419.5 260.0L1420.5 310.9L1421.6 332.0L1422.8 282.4L1423.9 232.7L1425.2 267.0L1426.1 240.0L1427.0 213.0L1428.1 242.5L1429.3 301.5L1430.4 331.0L1431.7 300.2L1433.1 238.8L1434.4 208.0L1435.3 236.0L1436.6 191.4L1437.7 247.0L1438.9 358.3L1440.0 414.0L1441.1 394.5L1442.3 343.3L1443.4 280.0L1444.6 228.8L1445.7 209.3L1446.8 248.7L1448.0 343.9L1449.1 439.2L1450.2 478.6L1451.4 413.8L1452.5 284.1L1453.7 219.3L1454.7 234.0L1456.0 202.4L1457.1 288.1L1458.3 459.4L1459.4 545.0L1460.6 513.6L1461.8 431.3L1463.0 329.7L1464.2 247.4L1465.4 216.0L1466.5 268.6L1467.6 395.7L1468.7 522.8L1469.8 575.4L1471.0 537.1L1472.1 436.7L1473.3 312.7L1474.4 212.3L1475.6 174.0L1476.7 226.7L1477.8 353.8L1478.9 480.9L1480.0 533.6L1481.2 496.9L1482.4 400.7L1483.6 281.9L1484.8 185.7L1486.0 149.0L1487.1 227.1L1488.3 383.4L1489.4 461.6L1490.6 431.1L1491.7 351.4L1492.9 252.8L1494.0 173.1L1495.2 142.6L1496.4 181.0L1497.6 273.8L1498.8 366.6L1500.0 405.0L1501.2 367.6L1502.5 277.3L1503.8 187.0L1505.0 149.6L1506.4 200.0L1507.4 190.4L1508.4 233.2L1509.4 318.8L1510.4 361.6L1511.7 307.7L1512.9 199.9L1514.2 146.0L1515.2 172.8L1516.1 226.2L1517.1 253.0L1517.8 246.0L1518.7 298.0L1519.6 350.0L1520.9 302.4L1522.3 207.1L1523.6 159.4L1524.7 173.4L1525.7 211.5L1526.8 263.7L1527.9 315.8L1528.9 354.0L1530.0 368.0L1531.3 317.8L1532.5 217.3L1533.8 167.0L1535.0 227.2L1536.2 347.8L1537.4 408.0L1538.5 386.8L1539.6 331.4L1540.8 263.0L1541.9 207.6L1543.0 186.4L1544.1 229.3L1545.2 332.7L1546.3 436.1L1547.4 479.0L1548.6 449.5L1549.7 372.4L1550.9 277.0L1552.0 199.9L1553.2 170.4L1554.3 217.7L1555.5 331.9L1556.7 446.1L1557.8 493.4L1558.9 461.8L1560.0 378.9L1561.2 276.5L1562.3 193.6L1563.4 162.0L1564.6 238.0L1565.8 390.0L1567.0 466.0L1568.2 437.5L1569.4 363.0L1570.6 271.0L1571.8 196.5L1573.0 168.0L1574.1 209.0L1575.2 308.0L1576.3 407.0L1577.4 448.0L1578.5 421.7L1579.6 353.0L1580.8 268.0L1581.9 199.3L1583.0 173.0L1584.1 204.0L1585.2 279.0L1586.3 354.0L1587.4 385.0L1588.6 351.5L1589.8 284.5L1591.0 251.0L1591.8 257.0L1593.3 222.0L1594.4 282.0L1595.4 236.0L1597.0 338.0L1598.1 313.2L1599.3 263.8L1600.4 239.0L1601.6 255.8L1602.8 289.2L1604.0 306.0L1605.0 281.0L1606.0 256.0L1607.0 316.7L1608.1 293.3L1609.3 246.4L1610.4 223.0L1611.5 262.8L1612.7 342.2L1613.8 382.0L1614.9 364.0L1616.0 316.9L1617.2 258.7L1618.3 211.6L1619.4 193.6L1620.6 225.6L1621.8 302.8L1623.0 380.0L1624.2 412.0L1625.4 377.9L1626.6 295.7L1627.8 213.5L1629.0 179.4L1630.1 216.1L1631.2 304.7L1632.3 393.3L1633.4 430.0L1634.5 404.1L1635.6 336.2L1636.8 252.2L1637.9 184.3L1639.0 158.4L1640.2 197.4L1641.3 291.5L1642.4 385.6L1643.6 424.6L1644.8 398.8L1645.9 331.2L1647.1 247.8L1648.2 180.2L1649.4 154.4L1650.6 209.3L1651.8 319.1L1653.0 374.0L1654.1 361.0L1655.1 325.3L1656.2 276.6L1657.3 227.9L1658.3 192.2L1659.4 179.2L1660.7 219.4L1662.1 299.8L1663.4 340.0L1664.3 300.0L1665.3 260.0L1665.9 275.0L1667.2 238.7L1668.6 202.4L1669.7 229.3L1670.9 283.1L1672.0 310.0L1673.4 275.5L1674.8 241.0L1675.8 246.0L1676.9 223.7L1678.0 201.4L1679.2 222.0L1680.5 271.7L1681.8 321.4L1683.0 342.0L1684.7 217.3L1686.0 248.7L1687.4 203.6L1688.5 263.2L1689.5 382.4L1690.6 442.0L1691.6 410.9L1692.7 335.7L1693.7 260.4L1694.7 229.3L1696.0 242.0L1697.4 210.0L1698.5 289.9L1699.5 449.7L1700.6 529.6L1702.2 446.0"/>
</g>
<rect x="116.8" y="55.8" width="1661.0" height="544.0" fill="none" stroke="#000" stroke-width="1.67"/>
<path d="M191.8 599.8 v6.9M466.8 599.8 v6.9M741.8 599.8 v6.9M1015.8 599.8 v6.9M1290.8 599.8 v6.9M1564.8 599.8 v6.9M116.8 592.8 h-6.9M116.8 519.8 h-6.9M116.8 447.8 h-6.9M116.8 374.8 h-6.9M116.8 301.8 h-6.9M116.8 228.8 h-6.9M116.8 155.8 h-6.9M116.8 82.8 h-6.9" stroke="#000" stroke-width="1.67" fill="none"/>
<text x="101.0" y="601.3" font-size="23.0" text-anchor="end" textLength="48.6" lengthAdjust="spacingAndGlyphs">−0.8</text>
<text x="101.0" y="528.4" font-size="23.0" text-anchor="end" textLength="48.6" lengthAdjust="spacingAndGlyphs">−0.6</text>
<text x="101.0" y="455.5" font-size="23.0" text-anchor="end" textLength="48.6" lengthAdjust="spacingAndGlyphs">−0.4</text>
<text x="101.0" y="382.6" font-size="23.0" text-anchor="end" textLength="48.6" lengthAdjust="spacingAndGlyphs">−0.2</text>
<text x="101.0" y="309.7" font-size="23.0" text-anchor="end" textLength="31.3" lengthAdjust="spacingAndGlyphs">0.0</text>
<text x="101.0" y="236.9" font-size="23.0" text-anchor="end" textLength="31.3" lengthAdjust="spacingAndGlyphs">0.2</text>
<text x="101.0" y="164.0" font-size="23.0" text-anchor="end" textLength="31.3" lengthAdjust="spacingAndGlyphs">0.4</text>
<text x="101.0" y="91.1" font-size="23.0" text-anchor="end" textLength="31.3" lengthAdjust="spacingAndGlyphs">0.6</text>
<text transform="translate(190.4 629.5) rotate(-30)" font-size="23.0" text-anchor="end" textLength="53" lengthAdjust="spacingAndGlyphs">1920</text>
<text transform="translate(465.0 629.5) rotate(-30)" font-size="23.0" text-anchor="end" textLength="53" lengthAdjust="spacingAndGlyphs">1940</text>
<text transform="translate(739.6 629.5) rotate(-30)" font-size="23.0" text-anchor="end" textLength="53" lengthAdjust="spacingAndGlyphs">1960</text>
<text transform="translate(1014.2 629.5) rotate(-30)" font-size="23.0" text-anchor="end" textLength="53" lengthAdjust="spacingAndGlyphs">1980</text>
<text transform="translate(1288.8 629.5) rotate(-30)" font-size="23.0" text-anchor="end" textLength="53" lengthAdjust="spacingAndGlyphs">2000</text>
<text transform="translate(1563.3 629.5) rotate(-30)" font-size="23.0" text-anchor="end" textLength="53" lengthAdjust="spacingAndGlyphs">2020</text>
<text x="947.1" y="683.3" font-size="23.0" text-anchor="middle" textLength="49.8" lengthAdjust="spacingAndGlyphs">Date</text>
<text transform="translate(38.2 329.8) rotate(-90)" font-size="22.7" text-anchor="middle" textLength="56" lengthAdjust="spacingAndGlyphs">Value</text>
<text x="947.3" y="43.2" font-size="26.5" text-anchor="middle" textLength="466" lengthAdjust="spacingAndGlyphs">Monthly sum-of-sinusoids time-series</text>
<rect x="1587" y="66.3" width="180" height="67.6" rx="4" ry="4" fill="#fff" fill-opacity="0.8" stroke="#cccccc" stroke-opacity="0.8" stroke-width="2.08"/>
<path d="M1596 83.6H1637.7" stroke="#1f77b4" stroke-width="1.05"/>
<path d="M1596 114.4H1637.7" stroke="#ff0000" stroke-width="1.05"/>
<text x="1655.5" y="90.7" font-size="22.1" textLength="103.5" lengthAdjust="spacingAndGlyphs">warne.dat</text>
<text x="1653.4" y="121.2" font-size="22.1" textLength="59.6" lengthAdjust="spacingAndGlyphs">ts.dat</text>
</svg></body></html>
